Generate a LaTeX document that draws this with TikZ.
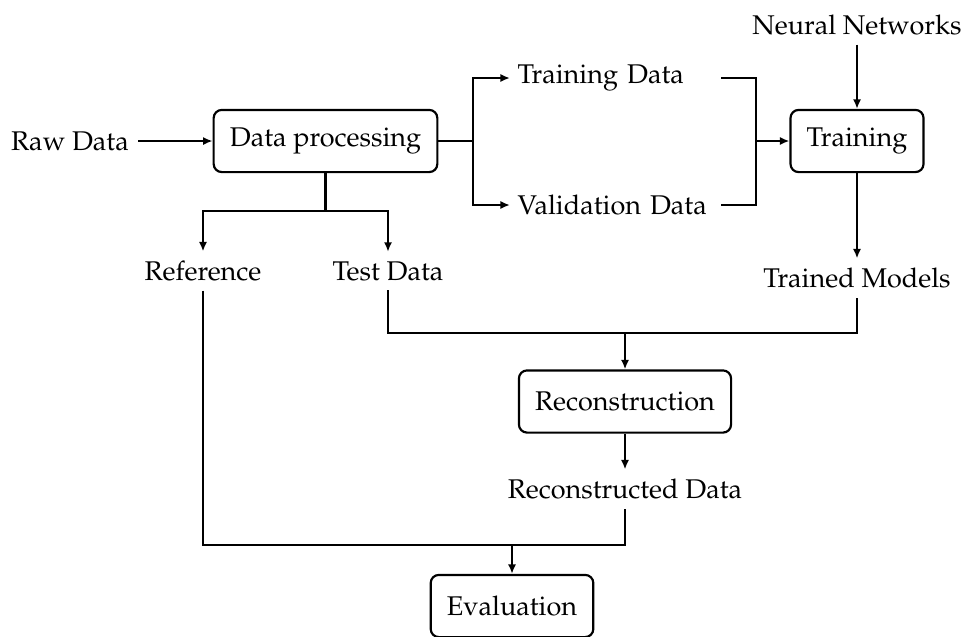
\documentclass[tikz,border=0pt]{standalone}
\usepackage[T1]{fontenc}
\usepackage{mathpazo}
\usetikzlibrary{arrows.meta}

\begin{document}
\begin{tikzpicture}[x=0.13cm, y=0.13cm]
	\tikzset{BoxStyle/.style={draw, rounded corners=3pt, line width=0.8pt, minimum height=23pt, inner xsep=6pt},
		DataStyle/.style={text width=72.5pt, align=left, inner xsep=2.6pt},
		LineStyle/.style={line width=0.8pt},
		ArrowStyle/.style={LineStyle, -{Latex[length=3.5pt,width=3pt]}}}
	\useasboundingbox (0,0) rectangle (96.9,-63.6);

	\node (raw) at (7.0,-14.1) {Raw Data};
	\node[BoxStyle] (dp) at (32.55,-14.1) {Data processing};
	\node[DataStyle] (tdata) at (61.55,-7.8) {Training Data};
	\node[DataStyle] (vdata) at (61.55,-20.5) {Validation Data};
	\node[BoxStyle] (train) at (85.7,-14.1) {Training};
	\node (nn) at (85.7,-2.5) {Neural Networks};
	\node (tm) at (85.7,-27.8) {Trained Models};
	\node (ref) at (20.3,-27.1) {Reference};
	\node (test) at (38.8,-27.1) {Test Data};
	\node[BoxStyle] (recon) at (62.5,-40.15) {Reconstruction};
	\node (rdata) at (62.5,-48.9) {Reconstructed Data};
	\node[BoxStyle] (eval) at (51.2,-60.6) {Evaluation};

	\coordinate (split) at (47.3,-14.1);
	\coordinate (merge) at (75.6,-14.1);
	\coordinate (s2) at (32.55,-21.1);
	\coordinate (j1) at (62.5,-33.3);
	\coordinate (j2) at (51.2,-54.5);

	\draw[ArrowStyle] (raw) -- (dp);
	\draw[LineStyle] (dp) -- (split);
	\draw[ArrowStyle] (split) |- (tdata);
	\draw[ArrowStyle] (split) |- (vdata);
	\draw[LineStyle] (tdata.east) -| (merge);
	\draw[LineStyle] (vdata.east) -| (merge);
	\draw[ArrowStyle] (merge) -- (train);
	\draw[ArrowStyle] (nn) -- (train);
	\draw[ArrowStyle] (train) -- (tm);

	\draw[LineStyle] (dp) -- (s2);
	\draw[ArrowStyle] (s2) -| (ref);
	\draw[ArrowStyle] (s2) -| (test);

	\draw[LineStyle] (test.south) |- (j1) -| (tm.south);
	\draw[ArrowStyle] (j1) -- (recon);
	\draw[ArrowStyle] (recon) -- (rdata);

	\draw[LineStyle] (ref.south) |- (j2) -| (rdata.south);
	\draw[ArrowStyle] (j2) -- (eval);
\end{tikzpicture}
\end{document}
